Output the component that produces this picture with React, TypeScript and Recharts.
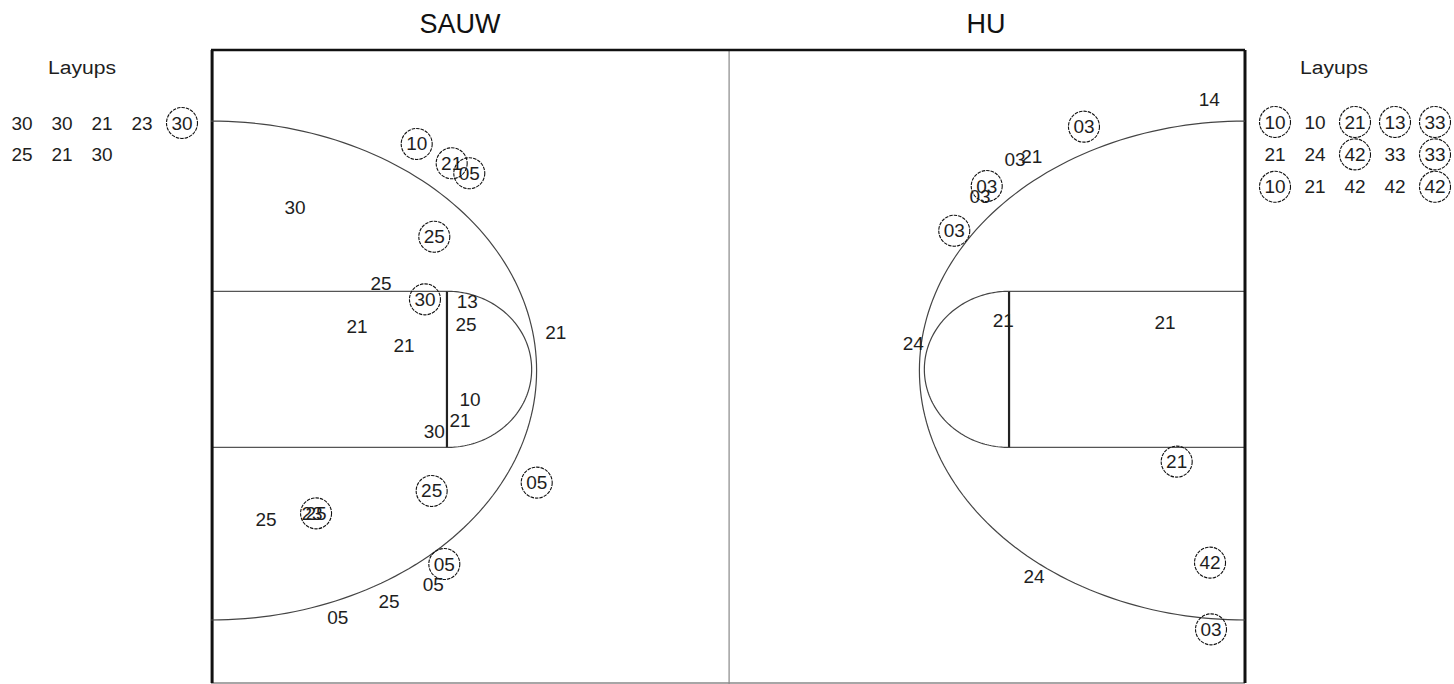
import React from 'react';
import { ScatterChart, Scatter, XAxis, YAxis, ReferenceLine } from 'recharts';

// ---- chart size & axis domains (court feet; court spans x 0..94) ----
const W = 1454;
const H = 684;
const X_DOMAIN: [number, number] = [-211 / 11, (W - 211) / 11];
const Y_DOMAIN: [number, number] = [-50 / 12.8, (H - 50) / 12.8];

// ---- SAUW shots (left half) ----
const sauwX = [18.7, 21.88, 23.48, 7.64, 20.3, 15.45, 19.45, 23.3, 23.18, 13.27, 17.55, 31.34, 23.55, 22.64, 20.3, 20.06, 29.61, 5.0, 9.18, 9.55, 21.21, 20.21, 16.18, 11.52];
const sauwY = [7.34, 8.85, 9.63, 12.27, 14.59, 18.28, 19.48, 19.66, 21.48, 21.64, 23.1, 22.05, 27.27, 28.91, 29.82, 34.45, 33.8, 36.66, 36.2, 36.2, 40.16, 41.72, 43.1, 44.32];
const sauwLabel = ['10', '21', '05', '30', '25', '25', '30', '13', '25', '21', '21', '21', '10', '21', '30', '25', '05', '25', '23', '25', '05', '05', '25', '05'];
const sauwMade = [true, true, true, false, true, false, true, false, false, false, false, false, false, false, false, true, true, false, false, true, true, false, false, false];

// ---- HU shots (right half) ----
const huX = [90.75, 79.36, 73.09, 74.61, 70.52, 69.91, 67.57, 63.85, 72.03, 86.73, 87.79, 90.82, 74.82, 90.91];
const huY = [3.83, 5.99, 8.54, 8.34, 10.63, 11.46, 14.12, 22.91, 21.15, 21.27, 32.16, 40.05, 41.17, 45.26];
const huLabel = ['14', '03', '03', '21', '03', '03', '03', '24', '21', '21', '21', '42', '24', '03'];
const huMade = [false, true, false, false, true, false, true, false, false, false, true, true, false, true];

// ---- Layups lists ----
const sauwLayups = [['30', '30', '21', '23', '30'], ['25', '21', '30']];
const sauwLayupsMade = [[false, false, false, false, true], [false, false, false]];
const huLayups = [['10', '10', '21', '13', '33'], ['21', '24', '42', '33', '33'], ['10', '21', '42', '42', '42']];
const huLayupsMade = [[true, false, true, true, true], [false, false, true, false, true], [true, false, false, false, true]];

// ---- team titles ----
const teams = ['SAUW', 'HU'];

// ---- court geometry (feet) ----
const COURT_LEN = 94;
const COURT_BOTTOM = 49.45;
const MID_X = 47.1;
const LANE_TOP = 18.85;
const LANE_BOT = 31.05;
const FT_DIST = 21.45;
const FT_CY = 24.95;
const FT_RX = 7.7;
const FT_RY = 6.1;
const ARC_CY = 25.04;
const ARC_RX = 29.6;
const ARC_RY = 19.49;

const FONT = '"Liberation Sans", Arial, Helvetica, sans-serif';
const INK = '#1e1e1e';

function halfEllipse(cx: number, cy: number, rx: number, ry: number, dir: number) {
  const pts: { x: number; y: number }[] = [];
  const n = 120;
  for (let i = 0; i <= n; i++) {
    const t = -Math.PI / 2 + (Math.PI * i) / n;
    pts.push({ x: cx + dir * rx * Math.cos(t), y: cy + ry * Math.sin(t) });
  }
  return pts;
}

const buildShots = (xs: number[], ys: number[], labels: string[], made: boolean[]) =>
  xs.map((x, i) => ({ x, y: ys[i], label: labels[i], made: made[i] }));

const sauwShots = buildShots(sauwX, sauwY, sauwLabel, sauwMade);
const huShots = buildShots(huX, huY, huLabel, huMade);

const arcs = [
  halfEllipse(0, ARC_CY, ARC_RX, ARC_RY, 1),
  halfEllipse(COURT_LEN, ARC_CY, ARC_RX, ARC_RY, -1),
  halfEllipse(FT_DIST, FT_CY, FT_RX, FT_RY, 1),
  halfEllipse(COURT_LEN - FT_DIST, FT_CY, FT_RX, FT_RY, -1),
];

const Mark = ({ cx, cy, label, made, fontSize = 19 }: any) => (
  <g>
    {made && (
      <circle cx={cx} cy={cy} r={15.5} fill="none" stroke="#111" strokeWidth={1.1} strokeDasharray="3.5 1" />
    )}
    <text x={cx} y={cy} textAnchor="middle" dominantBaseline="central" fontSize={fontSize} fill={INK} fontFamily={FONT}>
      {label}
    </text>
  </g>
);

const ShotShape = (props: any) => {
  const { cx, cy, payload } = props;
  return <Mark cx={cx} cy={cy} label={payload.label} made={payload.made} />;
};

const Nothing = () => <g />;

export default function App() {
  const lane = (x1: number, x2: number) => [
    <ReferenceLine key={`lt${x1}`} segment={[{ x: x1, y: LANE_TOP }, { x: x2, y: LANE_TOP }]} stroke="#555" strokeWidth={1.3} ifOverflow="visible" />,
    <ReferenceLine key={`lb${x1}`} segment={[{ x: x1, y: LANE_BOT }, { x: x2, y: LANE_BOT }]} stroke="#555" strokeWidth={1.3} ifOverflow="visible" />,
  ];
  return (
    <div style={{ position: 'absolute', left: 0, top: 0, width: W, height: H, background: '#fff' }}>
      <ScatterChart width={W} height={H} margin={{ top: 0, right: 0, bottom: 0, left: 0 }}>
        <XAxis type="number" dataKey="x" domain={X_DOMAIN} allowDataOverflow hide />
        <YAxis type="number" dataKey="y" domain={Y_DOMAIN} allowDataOverflow reversed hide />
        {/* court frame */}
        <ReferenceLine segment={[{ x: MID_X, y: 0 }, { x: MID_X, y: Y_DOMAIN[1] }]} stroke="#888" strokeWidth={1.2} ifOverflow="visible" />
        <ReferenceLine segment={[{ x: 0, y: COURT_BOTTOM }, { x: COURT_LEN, y: COURT_BOTTOM }]} stroke="#888" strokeWidth={1.5} ifOverflow="visible" />
        {lane(0, FT_DIST)}
        {lane(COURT_LEN - FT_DIST, COURT_LEN)}
        {arcs.map((pts, i) => (
          <Scatter key={`arc${i}`} data={pts} shape={Nothing} line={{ stroke: '#444', strokeWidth: 1.2 }} lineJointType="linear" isAnimationActive={false} legendType="none" />
        ))}
        <ReferenceLine segment={[{ x: FT_DIST, y: LANE_TOP }, { x: FT_DIST, y: LANE_BOT }]} stroke="#222" strokeWidth={2.2} ifOverflow="visible" />
        <ReferenceLine segment={[{ x: COURT_LEN - FT_DIST, y: LANE_TOP }, { x: COURT_LEN - FT_DIST, y: LANE_BOT }]} stroke="#222" strokeWidth={2.2} ifOverflow="visible" />
        <ReferenceLine segment={[{ x: 0, y: 0 }, { x: COURT_LEN, y: 0 }]} stroke="#111" strokeWidth={2.5} ifOverflow="visible" />
        <ReferenceLine segment={[{ x: 0.1, y: 0 }, { x: 0.1, y: COURT_BOTTOM }]} stroke="#111" strokeWidth={3} ifOverflow="visible" />
        <ReferenceLine segment={[{ x: COURT_LEN, y: 0 }, { x: COURT_LEN, y: COURT_BOTTOM }]} stroke="#111" strokeWidth={3} ifOverflow="visible" />
        {/* shots */}
        <Scatter data={sauwShots} shape={ShotShape} isAnimationActive={false} legendType="none" />
        <Scatter data={huShots} shape={ShotShape} isAnimationActive={false} legendType="none" />
      </ScatterChart>
      <svg width={W} height={H} style={{ position: 'absolute', left: 0, top: 0, pointerEvents: 'none' }}>
        <text x={460} y={24} textAnchor="middle" dominantBaseline="central" fontSize={27} fill="#111" fontFamily={FONT}>{teams[0]}</text>
        <text x={986} y={24} textAnchor="middle" dominantBaseline="central" fontSize={27} fill="#111" fontFamily={FONT}>{teams[1]}</text>
        <text x={82} y={68} textAnchor="middle" dominantBaseline="central" fontSize={18} textLength={68} lengthAdjust="spacingAndGlyphs" fill={INK} fontFamily={FONT}>Layups</text>
        <text x={1334} y={68} textAnchor="middle" dominantBaseline="central" fontSize={18} textLength={68} lengthAdjust="spacingAndGlyphs" fill={INK} fontFamily={FONT}>Layups</text>
        {sauwLayups.map((row, j) =>
          row.map((lab, i) => (
            <Mark key={`sl${j}-${i}`} cx={22 + 40 * i} cy={123 + 31.7 * j} label={lab} made={sauwLayupsMade[j][i]} />
          ))
        )}
        {huLayups.map((row, j) =>
          row.map((lab, i) => (
            <Mark key={`hl${j}-${i}`} cx={1275 + 40 * i} cy={122 + 32.4 * j} label={lab} made={huLayupsMade[j][i]} />
          ))
        )}
      </svg>
    </div>
  );
}
